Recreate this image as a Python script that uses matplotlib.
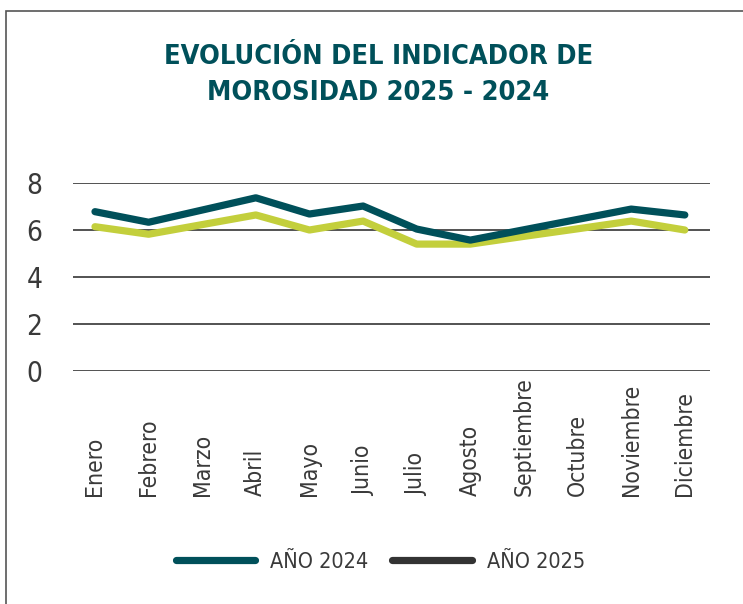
import matplotlib
matplotlib.use("Agg")
import matplotlib.pyplot as plt
from matplotlib.lines import Line2D
from matplotlib.patches import Rectangle

meses = ["Enero", "Febrero", "Marzo", "Abril", "Mayo", "Junio", "Julio",
         "Agosto", "Septiembre", "Octubre", "Noviembre", "Diciembre"]
anio_2024 = [6.78, 6.33, 6.85, 7.37, 6.68, 7.02, 6.04, 5.57, 6.01, 6.45, 6.89, 6.64]
anio_2025 = [6.14, 5.82, 6.23, 6.64, 6.00, 6.38, 5.40, 5.40, 5.73, 6.05, 6.38, 6.00]
y_ticks = [0, 2, 4, 6, 8]

plt.rcParams["font.family"] = ["DejaVu Sans"]
plt.rcParams["font.stretch"] = "condensed"

teal = "#00505a"
lime = "#c3cf3c"
dark = "#333333"
text_c = "#3a3a3a"

fig = plt.figure(figsize=(7.43, 6.04), dpi=100)
fig.patches.append(Rectangle((6 / 743, -0.1), 1.1, 1 - 11 / 604 + 0.1,
                             transform=fig.transFigure, fill=False,
                             edgecolor="#555555", linewidth=1.2))

ax = fig.add_axes([73 / 743, 1 - 371 / 604, (710 - 73) / 743, (371 - 183) / 604])
x = list(range(len(meses)))
ax.plot(x, anio_2024, color=teal, lw=5.2, solid_capstyle="round", zorder=3)
ax.plot(x, anio_2025, color=lime, lw=5.2, solid_capstyle="round", zorder=2)

ax.set_ylim(0, 8)
ax.set_xlim(-0.41, 11.47)
ax.set_yticks(y_ticks)
ax.grid(axis="y", color="#444444", lw=1.3)
ax.set_axisbelow(True)
for s in ax.spines.values():
    s.set_visible(False)
ax.tick_params(axis="y", length=0, pad=22, labelsize=20, labelcolor=text_c)
ax.set_xticks(x)
ax.set_xticklabels(meses, rotation=90, va="bottom", ha="center",
                   fontsize=16.5, color=text_c)
ax.tick_params(axis="x", length=0, pad=90)

fig.text(0.509, 1 - 75 / 604, "EVOLUCIÓN DEL INDICADOR DE\nMOROSIDAD 2025 - 2024",
         ha="center", va="center", fontsize=19.5, fontweight="bold", color=teal,
         linespacing=1.55)

handles = [Line2D([], [], color=teal, lw=5.2, solid_capstyle="round"),
           Line2D([], [], color=dark, lw=5.2, solid_capstyle="round")]
fig.legend(handles, ["AÑO 2024", "AÑO 2025"], loc="center",
           bbox_to_anchor=(0.512, 1 - 562 / 604), ncol=2, frameon=False,
           prop={"size": 15.5}, labelcolor=text_c,
           handlelength=3.7, handletextpad=0.7, columnspacing=1.1)

fig.savefig("out.png", dpi=100)
